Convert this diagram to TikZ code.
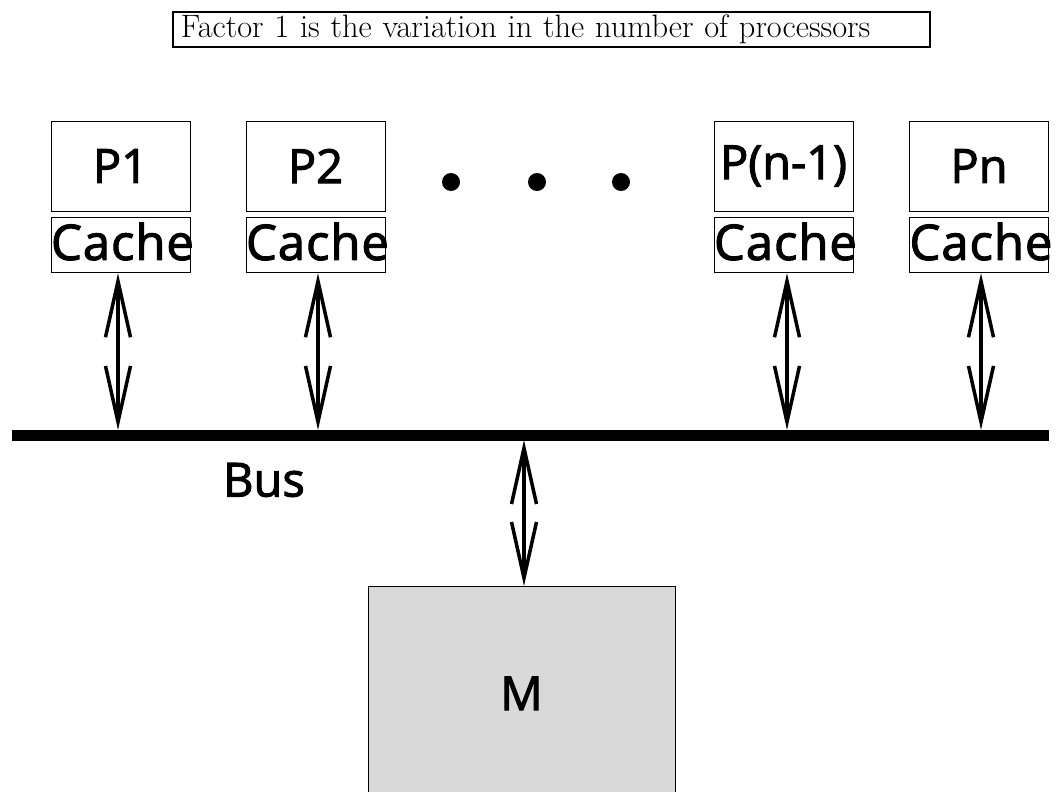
\documentclass[tikz,border=0pt]{standalone}
\usepackage{fontspec}
\newfontfamily\boxfont[FakeBold=2.2]{Open Sans}
\newfontfamily\cachefont[FakeBold=2.2, LetterSpace=2]{Open Sans}
\usetikzlibrary{arrows.meta,positioning}
\definecolor{memgray}{HTML}{D9D9D9}

\begin{document}
\begin{tikzpicture}[x=1pt, y=-1pt,
  lbl/.style = {font=\boxfont\fontsize{47}{47}\selectfont},
  proc/.style = {draw, line width=0.8pt, minimum width=139pt, minimum height=90pt, inner sep=0pt, lbl},
  cache/.style = {draw, line width=0.8pt, text width=139pt, align=center, minimum height=55pt, inner sep=0pt, text depth=8pt,
                  font=\cachefont\fontsize{49}{49}\selectfont, node distance=6pt},
  dot/.style = {circle, fill, minimum size=18pt, inner sep=0pt},
  link/.style = {line width=3.5pt, {Straight Barb[length=56pt,width=25pt]}-{Straight Barb[length=56pt,width=25pt]}}]
	\useasboundingbox (0,0) rectangle (1057,792);
	
	\node[draw, line width=1.5pt, anchor=west, text width=741pt, inner xsep=8pt, inner ysep=0pt, minimum height=35pt, align=left,
	      font=\fontsize{32.4}{32.4}\selectfont] (title) at (172,29.5) {Factor 1 is the variation in the number of processors};
	
	\node[proc] (p1) at (120.5,166) {P1};
	\node[cache] (c1) [below=of p1] {Cache};
	\node[proc] (p2) at (315.5,166) {P2};
	\node[cache] (c2) [below=of p2] {Cache};
	\node[proc] (p3) at (783.5,166) {P(n-1)};
	\node[cache] (c3) [below=of p3] {Cache};
	\node[proc] (p4) at (979,166) {Pn};
	\node[cache] (c4) [below=of p4] {Cache};
	
	\node[dot] (d1) at (451,182) {};
	\node[dot] (d2) at (537,182) {};
	\node[dot] (d3) at (621,182) {};
	
	% the bus
	\coordinate (busL) at (12,435);
	\coordinate (busR) at (1049,435);
	\draw[line width=11pt] (busL) -- (busR);
	\node[lbl] (bus) at (264,480) {Bus};
	
	\coordinate (b1) at (118,430);
	\coordinate (b2) at (318,430);
	\coordinate (b3) at (787,430);
	\coordinate (b4) at (981,430);
	\coordinate (bm) at (524,440);
	
	\node[draw, line width=0.8pt, fill=memgray, anchor=north, minimum width=307pt, minimum height=214pt, lbl] (mem) at (521.5,586) {M};
	
	\draw[link] (c1.south -| b1) -- (b1);
	\draw[link] (c2.south -| b2) -- (b2);
	\draw[link] (c3.south -| b3) -- (b3);
	\draw[link] (c4.south -| b4) -- (b4);
	\draw[link] (bm) -- (mem.north -| bm);
\end{tikzpicture}
\end{document}
